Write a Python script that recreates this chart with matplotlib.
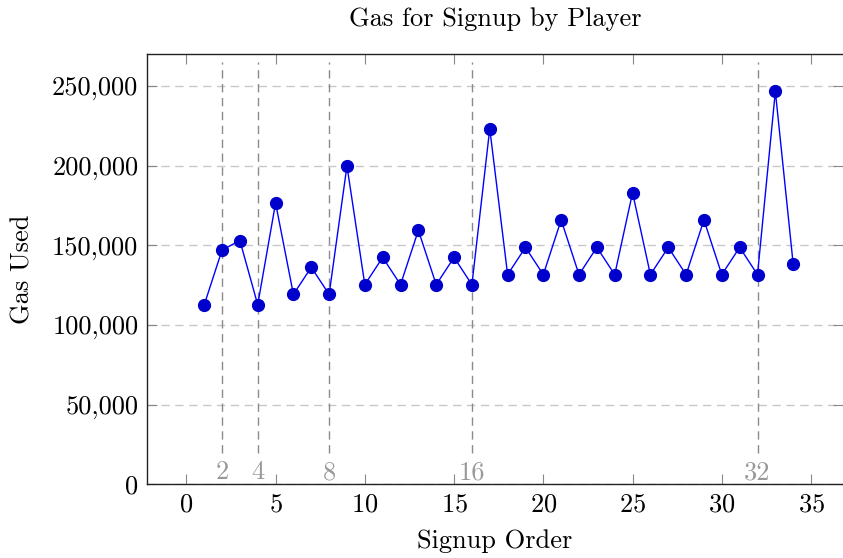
import matplotlib
matplotlib.use("Agg")
import matplotlib.pyplot as plt
from matplotlib.ticker import FuncFormatter

plt.rcParams['font.family'] = 'serif'
plt.rcParams['font.serif'] = ['cmr10']
plt.rcParams['axes.formatter.use_mathtext'] = True

# gas used per player, in signup order
signup_order = list(range(1, 35))
gas_used = [112500, 147000, 153000, 112700, 176500, 119200, 136200, 119200,
            199800, 125300, 142400, 125300, 159400, 125300, 142400, 125300,
            223200, 131600, 148700, 131600, 165900, 131600, 148700, 131600,
            183000, 131600, 148700, 131600, 165900, 131600, 148700, 131600,
            246600, 138100]
marks = [2, 4, 8, 16, 32]

W, H = 843, 558
fig = plt.figure(figsize=(W / 100, H / 100), dpi=100)
ax = fig.add_axes([146.7 / W, (H - 484.4) / H, (843 - 146.7) / W, (484.4 - 54) / H])

fs = 19
ax.set_xlim(-2.22, 36.79)
ax.set_ylim(0, 270000)
ax.set_xticks(range(0, 40, 5))
ax.set_yticks(range(0, 300000, 50000))
ax.yaxis.set_major_formatter(FuncFormatter(lambda v, p: f"{int(v):,}"))

ax.grid(axis='y', color='#c8c8c8', linestyle=(0, (6, 4)), linewidth=1.0)
ax.set_axisbelow(True)

for m in marks:
    ax.plot([m, m], [20000, 265000], color='#8a8a8a', linestyle=(0, (6, 4)), linewidth=1.0, zorder=1)
    ax.text(m, 7500, str(m), color='#999999', fontsize=fs, ha='center', va='center')

ax.plot(signup_order, gas_used, color='#0000ff', linewidth=1.0, marker='o',
        markersize=8.5, markerfacecolor='#0000cc', markeredgecolor='#0000cc', zorder=3)

ax.tick_params(direction='in', length=7.5, width=0.8, color='#888888', labelsize=fs,
               top=True, right=True, pad=6)
for side in ['left', 'bottom', 'top']:
    ax.spines[side].set_color('#222222')
    ax.spines[side].set_linewidth(1.0)
ax.spines['right'].set_visible(False)

ax.set_title("Gas for Signup by Player", fontsize=fs, pad=20)
ax.set_xlabel("Signup Order", fontsize=fs, labelpad=9)
ax.set_ylabel("Gas Used", fontsize=fs, labelpad=13)

fig.savefig("out.png", dpi=100)
